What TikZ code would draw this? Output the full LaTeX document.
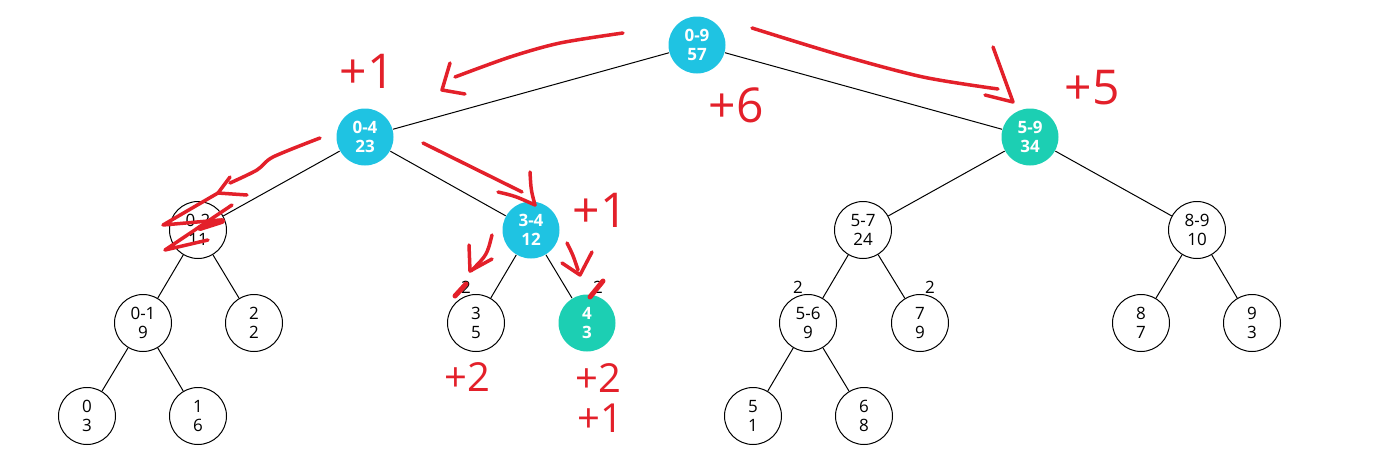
\documentclass[tikz,border=0pt]{standalone}
\usepackage{fontspec}
\setmainfont{Open Sans}
\usepackage{tikz}
\definecolor{seg}{HTML}{1FC3E2}
\definecolor{hit}{HTML}{1CCFB3}
\definecolor{pen}{HTML}{E3202A}

\begin{document}
\begin{tikzpicture}[x=1pt, y=-1pt, line width=1pt,
  main/.style = {draw, circle, minimum size=57pt, inner sep=0pt, align=center, line width=1pt, font=\fontsize{17}{19.5}\selectfont},
  visit/.style = {main, draw=none, fill=seg, text=white, font=\bfseries\fontsize{17}{19.5}\selectfont},
  found/.style = {visit, fill=hit},
  tag/.style = {font=\fontsize{17}{19.5}\selectfont},
  ink/.style = {pen, line width=3.5pt, line cap=round, line join=round},
  note/.style = {text=pen, font=\fontsize{48}{48}\selectfont},
  smallnote/.style = {text=pen, font=\fontsize{40}{40}\selectfont}]
\useasboundingbox (0,0) rectangle (1377,472);

% tree
\node[visit] (n09) at (697,45) {0-9\\57};
\node[visit] (n04) at (365,137) {0-4\\23};
\node[found] (n59) at (1030,137) {5-9\\34};
\node[main] (n02) at (198,230) {0-2\\11};
\node[visit] (n34) at (531,230) {3-4\\12};
\node[main] (n57) at (863,230) {5-7\\24};
\node[main] (n89) at (1197,230) {8-9\\10};
\node[main] (n01) at (143,323) {0-1\\9};
\node[main] (n2) at (254,323) {2\\2};
\node[main] (n3) at (476,323) {3\\5};
\node[found] (n4) at (587,323) {4\\3};
\node[main] (n56) at (808,323) {5-6\\9};
\node[main] (n7) at (920,323) {7\\9};
\node[main] (n8) at (1141,323) {8\\7};
\node[main] (n9) at (1252,323) {9\\3};
\node[main] (n0) at (87,416) {0\\3};
\node[main] (n1) at (198,416) {1\\6};
\node[main] (n5) at (753,416) {5\\1};
\node[main] (n6) at (864,416) {6\\8};

\draw (n09) -- (n04);
\draw (n09) -- (n59);
\draw (n04) -- (n02);
\draw (n04) -- (n34);
\draw (n59) -- (n57);
\draw (n59) -- (n89);
\draw (n02) -- (n01);
\draw (n02) -- (n2);
\draw (n34) -- (n3);
\draw (n34) -- (n4);
\draw (n57) -- (n56);
\draw (n57) -- (n7);
\draw (n89) -- (n8);
\draw (n89) -- (n9);
\draw (n01) -- (n0);
\draw (n01) -- (n1);
\draw (n56) -- (n5);
\draw (n56) -- (n6);

% small labels
\node[tag] (t3) at (466,287) {2};
\node[tag] (t4) at (598,287) {2};
\node[tag] (t56) at (798,287) {2};
\node[tag] (t7) at (930,287) {2};

% red pen marks
\draw[ink] plot[smooth] coordinates {(623,33) (560,43) (510,57) (455,77)};
\draw[ink] (450,63) -- (442,90) -- (465,94);
\draw[ink] plot[smooth] coordinates {(752,28) (840,55) (923,77) (998,89)};
\draw[ink] (993,47) -- (1013,102) -- (985,95);
\draw[ink] plot[smooth] coordinates {(320,138) (273,157) (257,170) (230,183)};
\draw[ink] (230,177) -- (218,193) -- (247,195);
\draw[ink] (218,193) -- (163,225) -- (220,220);
\draw[ink] (232,205) -- (165,250) -- (208,240);
\draw[ink, line width=6pt] (200,228) -- (222,221);
\draw[ink] (423,143) -- (522,192);
\draw[ink] (530,172) .. controls (531,190) .. (535,205);
\draw[ink] (498,192) .. controls (515,196) .. (535,205);
\draw[ink] (492,235) .. controls (487,255) .. (471,271);
\draw[ink] (469,245) -- (470,271) -- (492,259);
\draw[ink, line width=5pt] (466,284) -- (455,296);
\draw[ink] (567,243) .. controls (573,255) .. (578,270);
\draw[ink] (562,263) -- (580,275) -- (592,252);
\draw[ink, line width=5pt] (603,281) -- (590,297);

\node[note] (p04) at (367,71) {+1};
\node[note] (p09) at (736,105) {+6};
\node[note] (p59) at (1092,88) {+5};
\node[note] (p34) at (600,210) {+1};
\node[smallnote] (p3) at (467,377) {+2};
\node[smallnote] (p4a) at (598,378) {+2};
\node[smallnote] (p4b) at (600,418) {+1};
\end{tikzpicture}
\end{document}
